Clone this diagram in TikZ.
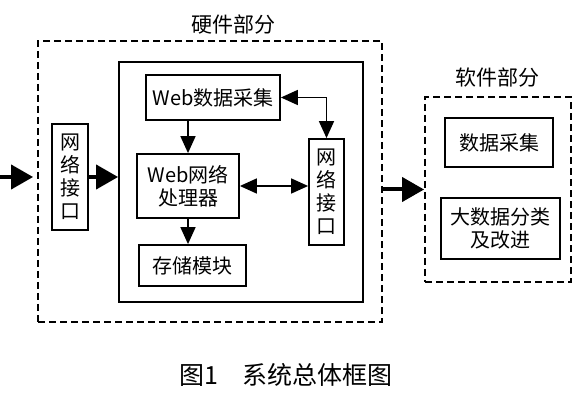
\documentclass[tikz,border=0pt]{standalone}
\usepackage{fontspec}
\setmainfont{Noto Sans CJK SC}
\usetikzlibrary{arrows.meta}

\begin{document}
\begin{tikzpicture}[x=1pt,y=-1pt,
    box/.style={draw, line width=1.8pt, align=center, inner sep=0pt,
        font=\fontsize{20}{23}\selectfont},
    frame/.style={draw, line width=1.8pt, dash pattern=on 7pt off 4pt},
    big/.style={line width=4pt, -{Triangle[length=22pt,width=24pt]}},
    thin/.style={line width=1.6pt, -{Triangle[length=17pt,width=15pt]}},
    both/.style={line width=1.6pt, {Triangle[length=17pt,width=15pt]}-{Triangle[length=17pt,width=15pt]}}]
        \useasboundingbox (0,0) rectangle (579,401);

        % the two parts
        \node[frame, minimum width=344pt, minimum height=281pt] (hw) at (210,181.5) {};
        \node[frame, minimum width=146pt, minimum height=185pt] (sw) at (498,189.5) {};

        % the texts
        \node[font=\fontsize{21}{24}\selectfont] (hwtitle) at (233,25) {硬件部分};
        \node[font=\fontsize{21}{24}\selectfont] (swtitle) at (497,78) {软件部分};
        \node[font=\fontsize{25}{28}\selectfont] (caption) at (286,375) {图1　系统总体框图};

        % the boxes of the hardware part
        \node[box, minimum width=36pt, minimum height=106pt] (netL) at (70,177) {网\\络\\接\\口};
        \node[box, minimum width=244pt, minimum height=240pt] (inner) at (241,182) {};
        \node[box, minimum width=134pt, minimum height=45pt] (webc) at (213,97.5) {Web数据采集};
        \node[box, minimum width=102pt, minimum height=64pt] (proc) at (188,186) {Web网络\\处理器};
        \node[box, minimum width=107pt, minimum height=41pt] (store) at (192.5,265.5) {存储模块};
        \node[box, minimum width=35pt, minimum height=106pt] (netR) at (326.5,192) {网\\络\\接\\口};

        % the boxes of the software part
        \node[box, minimum width=108pt, minimum height=49pt] (data) at (499,142.5) {数据采集};
        \node[box, minimum width=119pt, minimum height=61pt] (big) at (500.5,228.5) {大数据分类\\及改进};

        % draw the arrows
        \coordinate (in) at (0,177);
        \draw[big] (in) -- ([xshift=-4pt]hw.west |- in);
        \draw[big] (netL.east) -- (inner.west |- netL.east);
        \draw[big] (hw.east |- sw.west) -- (sw.west);
        \draw[thin] (proc.north |- webc.south) -- (proc.north);
        \draw[thin] (proc.south) -- (proc.south |- store.north);
        \draw[both] (proc.east) -- (netR.west |- proc.east);
        \draw[both] (webc.east) -| (netR.north);

    \end{tikzpicture}
\end{document}
